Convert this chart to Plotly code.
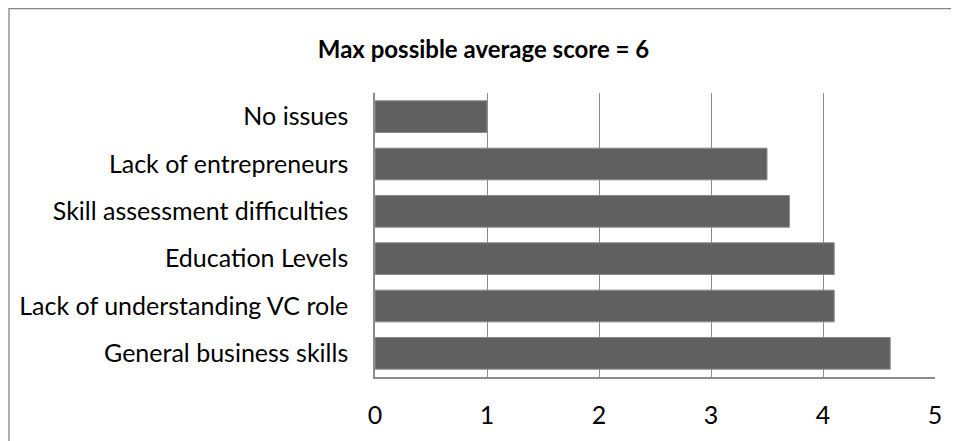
"""Horizontal bar chart: perceived issues, average score."""
import plotly.graph_objects as go

categories = [
    "General business skills",
    "Lack of understanding VC role",
    "Education Levels",
    "Skill assessment difficulties",
    "Lack of entrepreneurs",
    "No issues",
]
scores = [4.6, 4.1, 4.1, 3.7, 3.5, 1.0]
x_ticks = [0, 1, 2, 3, 4, 5]

TITLE = "Max possible average score = 6"
FONT = "Lato"
BAR = "#606060"
GRID = "#8c8c8c"

# the page body adds an 8px margin, so the figure is a bit smaller than the window
OFF = 8
W, H = 959 - OFF, 441 - OFF
L, R, T, B = 375 - OFF, 24, 93 - OFF, 64

fig = go.Figure()
fig.add_trace(
    go.Bar(
        x=scores,
        y=categories,
        orientation="h",
        marker={"color": BAR, "line": {"color": "#8a8a8a", "width": 1}},
        hoverinfo="x+y",
    )
)

plot_w = W - L - R
plot_h = H - T - B

fig.update_layout(
    width=W,
    height=H,
    margin={"l": L, "r": R, "t": T, "b": B, "autoexpand": False},
    paper_bgcolor="white",
    plot_bgcolor="white",
    font={"family": FONT, "size": 25, "color": "#000000"},
    bargap=0.33,
    showlegend=False,
    title={
        "text": f"<b>{TITLE}</b>",
        "x": 0.5,
        "xanchor": "center",
        "y": 1 - (50 - OFF) / H,
        "yanchor": "middle",
        "font": {"family": FONT, "size": 24, "color": "#000000"},
    },
    shapes=[
        {
            "type": "rect",
            "xref": "paper",
            "yref": "paper",
            "x0": (9 - 375) / plot_w,
            "x1": (W + 10 - L) / plot_w,
            "y0": -(B + 10) / plot_h,
            "y1": (H - B - 0.7) / plot_h,
            "line": {"color": "#868686", "width": 1.3},
            "fillcolor": "rgba(0,0,0,0)",
            "layer": "below",
        }
    ],
)

fig.update_xaxes(
    range=[0, 5],
    tickvals=x_ticks,
    showgrid=True,
    gridcolor=GRID,
    gridwidth=1,
    showline=True,
    linecolor=GRID,
    linewidth=1.5,
    ticks="",
    ticklabelstandoff=15,
    zeroline=False,
    fixedrange=True,
)
fig.update_yaxes(
    showline=True,
    linecolor=GRID,
    linewidth=1.5,
    showgrid=False,
    ticks="",
    ticklabelstandoff=20,
    fixedrange=True,
)

fig.write_html("out.html")
